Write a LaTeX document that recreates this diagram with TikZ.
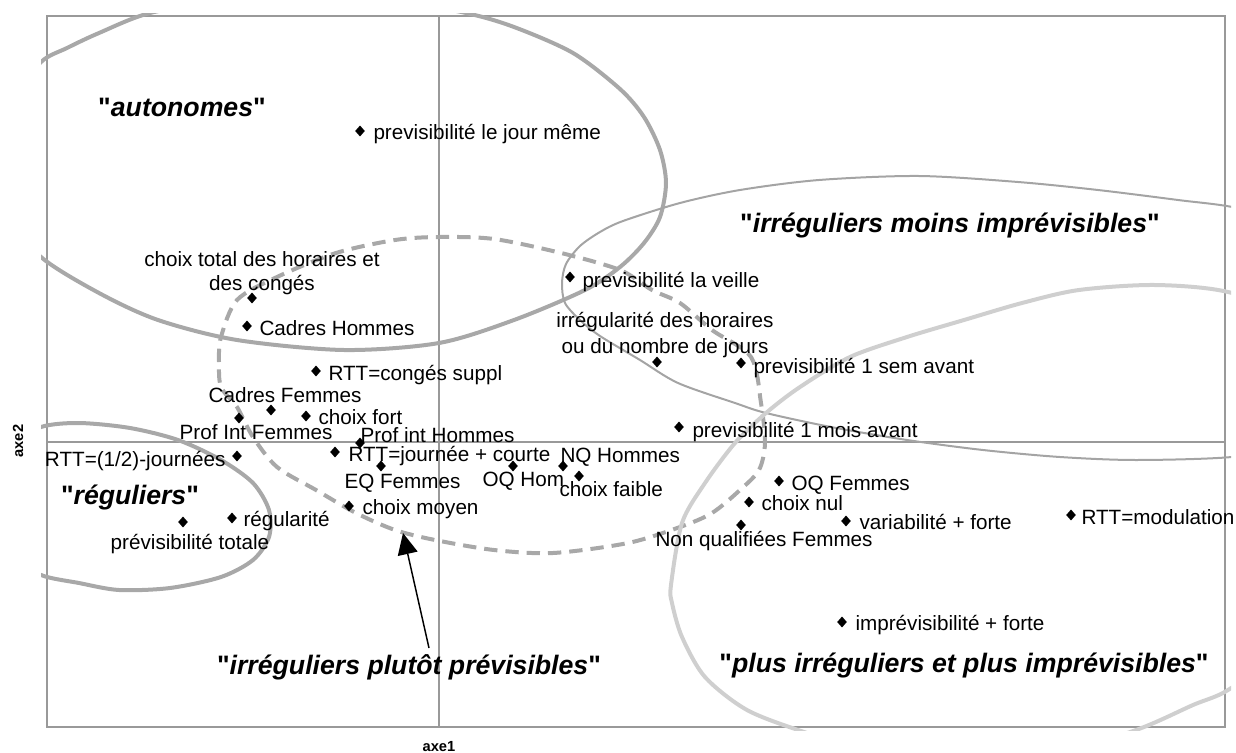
\documentclass[tikz,border=0pt]{standalone}
\usepackage{fontspec}
\setmainfont{Liberation Sans}[Ligatures=TeXOff]
\usetikzlibrary{shapes.geometric,arrows.meta}

\definecolor{cadre}{HTML}{999999}
\definecolor{zonegris}{HTML}{A8A8A8}
\definecolor{zoneclair}{HTML}{CFCFCF}
\definecolor{zonefin}{HTML}{A4A4A4}

\tikzset{every picture/.style={line width=0.75pt}}
\tikzset{
  losange/.style={diamond,fill=black,inner sep=0pt,minimum width=7.5pt,minimum height=8.5pt},
  lbl/.style={inner sep=0pt,font=\fontsize{15.5}{18}\selectfont},
  titre/.style={inner sep=0pt,font=\fontsize{20}{24}\selectfont\bfseries\itshape},
  axelbl/.style={inner sep=0pt,font=\fontsize{11}{13}\selectfont\bfseries},
  zone/.style={draw=zonegris,line width=3pt},
  zoneclaire/.style={draw=zoneclair,line width=3pt},
  zonefine/.style={draw=zonefin,line width=1.5pt},
  zonetirets/.style={draw=zonegris,line width=3pt,dash pattern=on 10pt off 6pt},
  fleche/.style={-{Triangle[width=15pt,length=16pt]},line width=1.1pt},
}
\newcommand{\guil}[1]{{\upshape"}#1{\upshape"}}

\begin{document}
\begin{tikzpicture}[x=0.75pt,y=0.75pt,yscale=-1,xscale=1]
\useasboundingbox (0,0) rectangle (1236,753);

% cadre et axes
\draw[cadre,line width=1.5pt] (47,16) rectangle (1225,727);
\draw[cadre,line width=1.1pt] (439,16) -- (439,727);
\draw[cadre,line width=1.1pt] (47,442) -- (1225,442);
\node[axelbl] (axe1) at (439,747) {axe1};
\node[axelbl,rotate=90] (axe2) at (18,441) {axe2};

% zones
\begin{scope}
\clip (41,13) rectangle (1231,730);
\draw[zone] plot[smooth cycle] coordinates {(41,257) (10,215) (0,160) (12,100) (41,62) (67,48) (99,33) (150,13) (230,0) (310,-4) (390,0) (466,13) (514,27) (573,53) (620,89) (644,117) (660,150) (666,183) (660,217) (644,243) (620,267) (585,290) (514,320) (439,343) (344,350) (237,340) (158,320) (99,293)};
\draw[zone] plot[smooth cycle] coordinates {(41,427) (79,423) (130,428) (178,440) (221,460) (253,483) (269,510) (269,537) (253,560) (221,577) (170,588) (119,590) (79,583) (41,575) (10,555) (0,500) (12,445)};
\draw[zonetirets] plot[smooth cycle] coordinates {(221,387) (219,362) (221,337) (237,300) (277,277) (336,253) (395,240) (439,237) (494,239) (561,253) (620,270) (652,290) (680,303) (712,330) (751,357) (761,403) (765,443) (759,470) (740,490) (712,513) (680,527) (628,543) (553,553) (494,550) (435,540) (395,530) (356,513) (316,490) (277,467) (253,437) (237,407)};
\draw[zonefine] plot[smooth cycle] coordinates {(562,283) (566,264) (580,246) (600,232) (623,221) (680,203) (740,190) (819,180) (919,176) (1018,182) (1098,190) (1178,200) (1237,208) (1300,228) (1345,330) (1300,445) (1232,457) (1136,460) (1060,457) (983,450) (907,440) (831,427) (766,413) (735,403) (678,383) (640,360) (600,336) (580,320) (565,303)};
\draw[zoneclaire] plot[smooth cycle] coordinates {(671,585) (682,523) (705,483) (735,443) (766,413) (800,387) (850,357) (907,337) (964,320) (1022,303) (1079,290) (1155,285) (1228,292) (1300,320) (1345,420) (1330,560) (1280,650) (1228,690) (1193,705) (1136,730) (1050,755) (960,762) (870,752) (804,732) (747,710) (705,677) (682,637) (672,603)};
\end{scope}

% Text Node
\node[titre,anchor=base] (t1) at (182,116) {\guil{autonomes}};
\node[titre,anchor=base] (t2) at (950,232) {\guil{irréguliers moins imprévisibles}};
\node[titre,anchor=base] (t3) at (130,504) {\guil{réguliers}};
\node[titre,anchor=base] (t4) at (409,674) {\guil{irréguliers plutôt prévisibles}};
\node[titre,anchor=base] (t5) at (964,672) {\guil{plus irréguliers et plus imprévisibles}};

% points
\node[losange] (m1) at (360,131) {};
\node[lbl,anchor=base west] (l1) at (373,139) {previsibilité le jour même};
\node[losange] (m2) at (252,298) {};
\node[lbl,align=center,font=\fontsize{15.5}{18}\selectfont] (l2) at (262,273) {choix total des horaires et\\des congés};
\node[losange] (m3) at (247,326) {};
\node[lbl,anchor=base west] (l3) at (259,335) {Cadres Hommes};
\node[losange] (m4) at (316,371) {};
\node[lbl,anchor=base west] (l4) at (328,380) {RTT=congés suppl};
\node[losange] (m5) at (271,410) {};
\node[lbl,anchor=base] (l5) at (285,402) {Cadres Femmes};
\node[losange] (m6) at (306,416) {};
\node[lbl,anchor=base west] (l6) at (318,424) {choix fort};
\node[losange] (m7) at (239,418) {};
\node[lbl,anchor=base] (l7) at (256,439) {Prof Int Femmes};
\node[losange] (m8) at (360,443) {};
\node[lbl,anchor=base west] (l8) at (360,442) {Prof int Hommes};
\node[losange] (m9) at (335,452) {};
\node[lbl,anchor=base west] (l9) at (348,461) {RTT=journée + courte};
\node[losange] (m10) at (237,456) {};
\node[lbl,anchor=base east] (l10) at (226,466) {RTT=(1/2)-journées};
\node[losange] (m11) at (381,466) {};
\node[lbl,anchor=base west] (l11) at (344,488) {EQ Femmes};
\node[losange] (m12) at (513,466) {};
\node[lbl,anchor=base west] (l12) at (482,486) {OQ Hom};
\node[losange] (m13) at (563,466) {};
\node[lbl,anchor=base west] (l13) at (560,462) {NQ Hommes};
\node[losange] (m14) at (579,476) {};
\node[lbl,anchor=base west] (l14) at (559,496) {choix faible};
\node[losange] (m15) at (349,506) {};
\node[lbl,anchor=base west] (l15) at (362,514) {choix moyen};
\node[losange] (m16) at (232,518) {};
\node[lbl,anchor=base west] (l16) at (243,526) {régularité};
\node[losange] (m17) at (183,522) {};
\node[lbl,anchor=base] (l17) at (190,549) {prévisibilité totale};
\node[losange] (m18) at (570,277) {};
\node[lbl,anchor=base west] (l18) at (582,287) {previsibilité la veille};
\node[losange] (m19) at (657,362) {};
\node[lbl,align=center,font=\fontsize{15.5}{19}\selectfont] (l19) at (665,335) {irrégularité des horaires\\ou du nombre de jours};
\node[losange] (m20) at (741,363) {};
\node[lbl,anchor=base west] (l20) at (753,373) {previsibilité 1 sem avant};
\node[losange] (m21) at (679,427) {};
\node[lbl,anchor=base west] (l21) at (692,437) {previsibilité 1 mois avant};
\node[losange] (m22) at (779,481) {};
\node[lbl,anchor=base west] (l22) at (791,490) {OQ Femmes};
\node[losange] (m23) at (749,502) {};
\node[lbl,anchor=base west] (l23) at (761,510) {choix nul};
\node[losange] (m24) at (846,521) {};
\node[lbl,anchor=base west] (l24) at (859,529) {variabilité + forte};
\node[losange] (m25) at (741,525) {};
\node[lbl,anchor=base west] (l25) at (655,546) {Non qualifiées Femmes};
\node[losange] (m26) at (1071,515) {};
\node[lbl,anchor=base west] (l26) at (1081,524) {RTT=modulation};
\node[losange] (m27) at (842,622) {};
\node[lbl,anchor=base west] (l27) at (855,630) {imprévisibilité + forte};

% fleche
\coordinate (queue) at (429,648);
\coordinate (pointe) at (403,533);
\draw[fleche] (queue) -- (pointe);

\end{tikzpicture}
\end{document}
